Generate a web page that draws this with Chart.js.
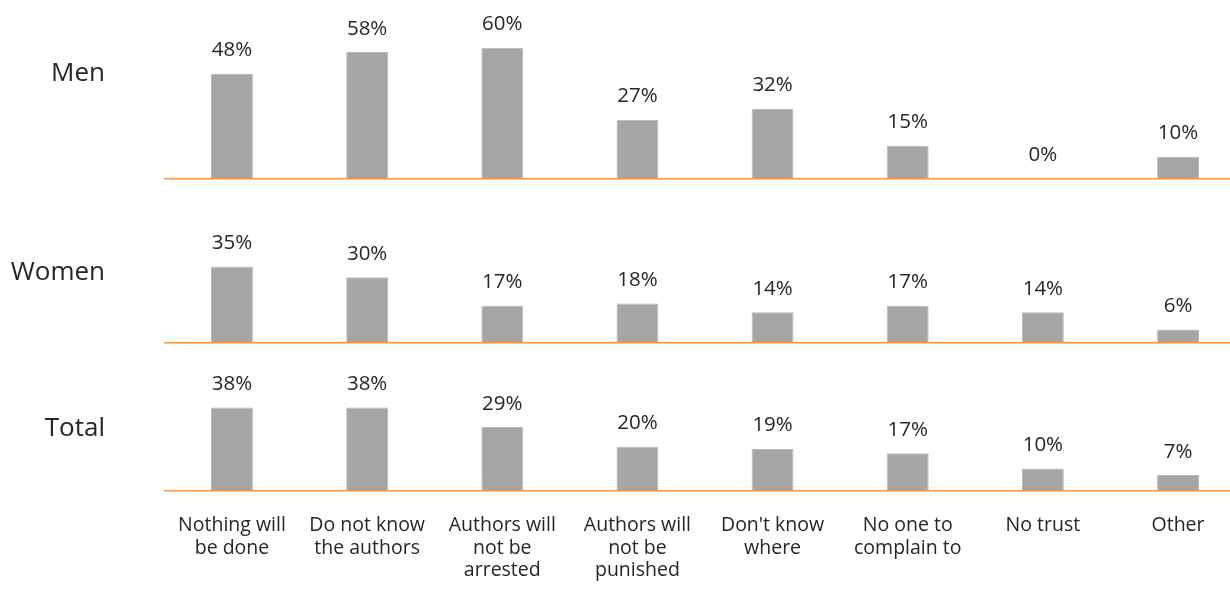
<!DOCTYPE html>
<html>
<head>
<meta charset="utf-8">
<script src="https://cdn.jsdelivr.net/npm/chart.js@4.4.1/dist/chart.umd.min.js"></script>
<style>
  html, body { margin:0; padding:0; background:#fff; overflow:hidden; width:1230px; height:593px; }
  canvas { position:absolute; left:0; top:0; }
</style>
</head>
<body>
<canvas id="c0"></canvas>
<canvas id="c1"></canvas>
<canvas id="c2"></canvas>
<script>
const categories = [
  ["Nothing will","be done"],
  ["Do not know","the authors"],
  ["Authors will","not be","arrested"],
  ["Authors will","not be","punished"],
  ["Don't know","where"],
  ["No one to","complain to"],
  ["No trust"],
  ["Other"]
];
const rowNames = ["Men", "Women", "Total"];
const menValues   = [48, 58, 60, 27, 32, 15, 0, 10];
const womenValues = [35, 30, 17, 18, 14, 17, 14, 6];
const totalValues = [38, 38, 29, 20, 19, 17, 10, 7];
const seriesValues = [menValues, womenValues, totalValues];

const FONT = "'Open Sans', 'Noto Sans', sans-serif";
const W = 1250, H = 593;
const baselines = [178.5, 342.7, 490.3];
const rowLabelBaselines = [81, 280, 435.7];
const yMax = 80;
const pxPerUnit = 2.18;

const labelPlugin = {
  id: 'labels',
  afterDatasetsDraw(chart, args, opts) {
    const ctx = chart.ctx;
    ctx.save();
    ctx.fillStyle = '#262626';
    ctx.font = `20.5px ${FONT}`;
    ctx.textAlign = 'center';
    ctx.textBaseline = 'alphabetic';
    const meta = chart.getDatasetMeta(0);
    const data = chart.data.datasets[0].data;
    meta.data.forEach((bar, i) => {
      ctx.fillText(data[i] + '%', bar.x, bar.y - 17.5);
    });
    ctx.font = `26px ${FONT}`;
    ctx.textAlign = 'right';
    ctx.fillText(opts.name, 105, opts.labelY);
    ctx.restore();
  }
};

seriesValues.forEach((vals, r) => {
  const cv = document.getElementById('c' + r);
  cv.width = W; cv.height = H;
  cv.style.width = W + 'px'; cv.style.height = H + 'px';
  const isLast = r === 2;
  const areaH = yMax * pxPerUnit;
  const bottomPad = isLast ? 0 : H - baselines[r];
  const topPad = baselines[r] - areaH;
  new Chart(cv, {
    type: 'bar',
    data: {
      labels: categories,
      datasets: [{
        data: vals,
        backgroundColor: '#A5A5A5',
        borderColor: '#B8B8B8',
        borderWidth: 1,
        barPercentage: 0.62,
        categoryPercentage: 0.5
      }]
    },
    options: {
      responsive: false,
      animation: false,
      events: [],
      layout: { padding: { left: 164.4, right: 4.4, top: topPad, bottom: bottomPad } },
      plugins: {
        legend: { display: false },
        tooltip: { enabled: false },
        labels: { name: rowNames[r], labelY: rowLabelBaselines[r] }
      },
      scales: {
        x: {
          grid: { display: false, drawTicks: false },
          border: { display: true, color: '#F79646', width: 1.6, z: 1 },
          ticks: {
            display: isLast,
            autoSkip: false,
            maxRotation: 0,
            minRotation: 0,
            padding: 24,
            color: '#262626',
            font: { family: FONT, size: 19.5, lineHeight: 1.16 }
          },
          afterFit(axis) { axis.height = isLast ? (H - baselines[2]) : 0; }
        },
        y: {
          display: false,
          min: 0,
          max: yMax
        }
      }
    },
    plugins: [labelPlugin]
  });
});
</script>
</body>
</html>
